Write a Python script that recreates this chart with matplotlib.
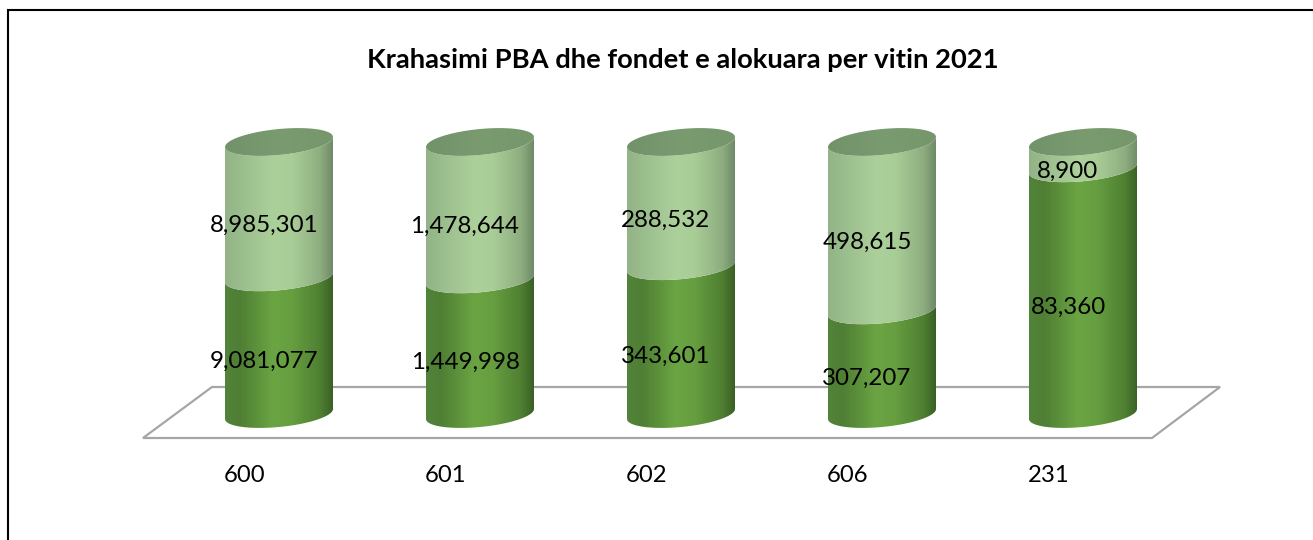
import numpy as np
import matplotlib
matplotlib.use("Agg")
import matplotlib.pyplot as plt
from matplotlib.colors import LinearSegmentedColormap
from matplotlib.lines import Line2D
from matplotlib.patches import Polygon

categories = ["600", "601", "602", "606", "231"]
lower_values = [9081077, 1449998, 343601, 307207, 83360]
upper_values = [8985301, 1478644, 288532, 498615, 8900]
title = "Krahasimi PBA dhe fondet e alokuara per vitin 2021"

W, H = 1313, 540
plt.rcParams["font.family"] = ["Lato", "DejaVu Sans"]
fig = plt.figure(figsize=(W / 100, H / 100), dpi=100, facecolor="white")
ax = fig.add_axes([0, 0, 1, 1])

# layout in pixels (top-down)
X0, DX = 279.0, 201.0
Y0, YH = 414.0, 272.0
xlim = (-X0 / DX, (W - X0) / DX)
ylim = ((Y0 - H) / YH, Y0 / YH)
A = 54.0 / DX
B = 13.0 / YH
SHEAR = 5.0 / YH

lower_cm = LinearSegmentedColormap.from_list("lo", [
    (0.0, "#52833a"), (0.14, "#4f7f34"), (0.45, "#6ba543"), (0.62, "#669e40"),
    (0.88, "#4f8032"), (1.0, "#3a6026")])
upper_cm = LinearSegmentedColormap.from_list("up", [
    (0.0, "#93b386"), (0.14, "#9abd8d"), (0.45, "#acd09a"), (0.62, "#a9cd97"),
    (0.88, "#8fae80"), (1.0, "#6f8a68")])
top_cm = LinearSegmentedColormap.from_list("top", ["#72926a", "#7a9a70", "#76966c"])
grad = np.linspace(0, 1, 256).reshape(1, -1)


def arc(c, y, t0, t1, n=60):
    t = np.linspace(t0, t1, n)
    return np.column_stack([c + A * np.cos(t), y + B * np.sin(t) + SHEAR * np.cos(t)])


def fill(verts, cmap, c, z):
    patch = Polygon(verts, closed=True, transform=ax.transData, facecolor="none", edgecolor="none")
    ax.add_patch(patch)
    y0, y1 = verts[:, 1].min(), verts[:, 1].max()
    im = ax.imshow(grad, cmap=cmap, extent=(c - A, c + A, y0, y1), aspect="auto",
                   zorder=z, interpolation="bilinear")
    im.set_clip_path(patch)


def segment(c, y0, y1, cmap, z):
    front = arc(c, y0, np.pi, 2 * np.pi)
    back = arc(c, y1, 2 * np.pi, np.pi)
    fill(np.vstack([front, back]), cmap, c, z)


# floor
px = lambda x, y: ((x - X0) / DX, (Y0 - y) / YH)
floor = [px(143, 438), px(1152, 438), px(1220, 387), px(212, 387)]
ax.add_patch(Polygon(floor, closed=True, facecolor="white", edgecolor="#a6a6a6", lw=1.6, zorder=1))

for i, (cat, lo, up) in enumerate(zip(categories, lower_values, upper_values)):
    s = lo / (lo + up)
    segment(i, 0, s, lower_cm, 2)
    segment(i, s, 1, upper_cm, 3)
    fill(arc(i, 1, 0, 2 * np.pi), top_cm, i, 4)
    lab_dx = -15 / DX
    lab_dy = -16 / YH
    ax.text(i + lab_dx, s / 2 + lab_dy, f"{lo:,}", ha="center", va="center", fontsize=17.4, color="black", zorder=6)
    ax.text(i + lab_dx, (1 + s) / 2 + lab_dy, f"{up:,}", ha="center", va="center", fontsize=17.4, color="black", zorder=6)
    ax.text(i - 34 / DX, (Y0 - 476) / YH, cat, ha="center", va="center", fontsize=17.2, color="black", zorder=6)

ax.set_xlim(*xlim)
ax.set_ylim(*ylim)
ax.axis("off")

fig.text(683 / W, 1 - 60 / H, title, ha="center", va="center", fontsize=19.7, fontweight="bold", color="black")

fig.add_artist(Line2D([8 / W, 8 / W, 1], [0, 1 - 10 / H, 1 - 10 / H], color="black", lw=1.5,
                      transform=fig.transFigure, solid_joinstyle="miter"))

fig.savefig("out.png", dpi=100)
